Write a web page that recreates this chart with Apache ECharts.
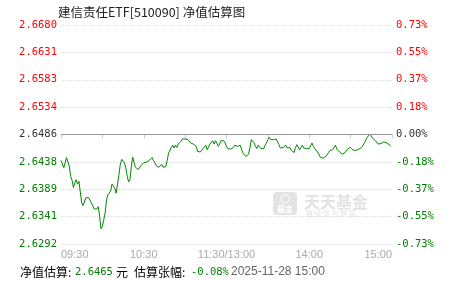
<!DOCTYPE html>
<html><head><meta charset="utf-8">
<script src="https://cdn.jsdelivr.net/npm/echarts@6/dist/echarts.min.js"></script>
<style>html,body{margin:0;padding:0;background:#fff}#c{width:451px;height:281px}</style>
</head><body><div id="c"></div>
<script>
const titleText = '建信责任ETF[510090] 净值估算图';
const baseNav = 2.6486;
const leftTickLabels = ['2.6292','2.6341','2.6389','2.6438','2.6486','2.6534','2.6583','2.6631','2.6680'];
const rightTickLabels = ['-0.73%','-0.55%','-0.37%','-0.18%','0.00%','0.18%','0.37%','0.55%','0.73%'];
const xTickLabels = {0:'09:30', 60:'10:30', 120:'11:30/13:00', 180:'14:00', 240:'15:00'};
const navValues = [
 2.6440,2.6434,2.6427,2.6424,2.6445,2.6442,2.6430,2.6412,2.6405,2.6392,
 2.6400,2.6406,2.6398,2.6403,2.6400,2.6365,2.6360,2.6360,2.6374,2.6375,
 2.6374,2.6372,2.6365,2.6360,2.6354,2.6352,2.6354,2.6358,2.6341,2.6319,
 2.6323,2.6335,2.6347,2.6370,2.6379,2.6376,2.6386,2.6398,2.6400,2.6391,
 2.6382,2.6385,2.6415,2.6433,2.6442,2.6439,2.6436,2.6427,2.6412,2.6402,
 2.6406,2.6430,2.6446,2.6436,2.6428,2.6426,2.6424,2.6426,2.6431,2.6434,
 2.6436,2.6439,2.6437,2.6437,2.6440,2.6443,2.6445,2.6440,2.6436,2.6431,
 2.6430,2.6428,2.6427,2.6433,2.6428,2.6426,2.6429,2.6440,2.6453,2.6455,
 2.6463,2.6467,2.6462,2.6467,2.6463,2.6469,2.6468,2.6474,2.6478,2.6476,
 2.6478,2.6475,2.6477,2.6474,2.6471,2.6473,2.6469,2.6468,2.6465,2.6456,
 2.6459,2.6455,2.6453,2.6461,2.6463,2.6467,2.6459,2.6462,2.6469,2.6471,
 2.6475,2.6469,2.6475,2.6471,2.6465,2.6469,2.6475,2.6477,2.6475,2.6471,
 2.6465,2.6461,2.6462,2.6460,2.6459,2.6463,2.6467,2.6467,2.6465,2.6466,
 2.6467,2.6459,2.6453,2.6451,2.6447,2.6445,2.6451,2.6463,2.6477,2.6479,
 2.6471,2.6465,2.6461,2.6467,2.6465,2.6461,2.6462,2.6461,2.6467,2.6471,
 2.6477,2.6481,2.6477,2.6476,2.6477,2.6474,2.6478,2.6476,2.6468,2.6462,
 2.6461,2.6463,2.6461,2.6467,2.6462,2.6461,2.6463,2.6458,2.6459,2.6454,
 2.6463,2.6468,2.6467,2.6459,2.6461,2.6467,2.6462,2.6465,2.6461,2.6462,
 2.6461,2.6466,2.6471,2.6465,2.6461,2.6458,2.6455,2.6451,2.6446,2.6445,
 2.6444,2.6445,2.6447,2.6450,2.6454,2.6458,2.6457,2.6459,2.6460,2.6467,
 2.6460,2.6457,2.6455,2.6453,2.6451,2.6448,2.6454,2.6457,2.6461,2.6462,
 2.6463,2.6460,2.6458,2.6460,2.6458,2.6459,2.6460,2.6461,2.6463,2.6465,
 2.6471,2.6476,2.6481,2.6484,2.6487,2.6484,2.6479,2.6477,2.6475,2.6473,
 2.6469,2.6468,2.6470,2.6471,2.6473,2.6471,2.6471,2.6471,2.6468,2.6465
];
const estNav = '2.6465';
const estPct = '-0.08%';
const estTime = '2025-11-28 15:00';
const sessions = [[570, 690], [781, 900]];

const times = [];
function hhmm(m){const h=Math.floor(m/60), mm=m%60; return (h<10?'0':'')+h+':'+(mm<10?'0':'')+mm;}
sessions.forEach(s=>{for(let m=s[0];m<=s[1];m++) times.push(hhmm(m));});

const maxBp = 73.25, stepBp = 18.3125;
const mid = 4;
function idxOf(v){return Math.round((v+maxBp)/stepBp);}
function tag(i){return i>mid?'r':(i<mid?'g':'k');}
const mono = 'DejaVu Sans Mono';
const labelRich = {
  r:{color:'#ff0000', fontFamily:mono, fontSize:10.5},
  g:{color:'#008000', fontFamily:mono, fontSize:10.5},
  k:{color:'#333333', fontFamily:mono, fontSize:10.5}
};

const chart = echarts.init(document.getElementById('c'));
chart.setOption({
  animation:false,
  backgroundColor:'#ffffff',
  grid:{left:61, right:59, top:25, bottom:37},
  xAxis:{
    type:'category', data:times, boundaryGap:false,
    axisLine:{lineStyle:{color:'#c3cfdb', width:1}},
    axisTick:{interval:(i)=>i%30===0, length:4, lineStyle:{color:'#c3cfdb'}},
    axisLabel:{interval:(i)=>i%60===0, formatter:(v,i)=>xTickLabels[i]||'', color:'#aaaaaa',
      fontSize:11, fontFamily:'Liberation Sans', margin:5, alignMinLabel:'left', alignMaxLabel:'right',
      showMinLabel:true, showMaxLabel:true},
    splitLine:{show:false}
  },
  yAxis:[{
    type:'value', min:-maxBp, max:maxBp, interval:stepBp, position:'left',
    axisLine:{show:false}, axisTick:{show:false},
    splitLine:{lineStyle:{color:'#dddddd', type:'dotted', width:1}},
    axisLabel:{margin:4, formatter:v=>{const i=idxOf(v);return '{'+tag(i)+'|'+leftTickLabels[i]+'}';}, rich:labelRich}
  },{
    type:'value', min:-maxBp, max:maxBp, interval:stepBp, position:'right',
    axisLine:{show:false}, axisTick:{show:false}, splitLine:{show:false},
    axisLabel:{margin:4, formatter:v=>{const i=idxOf(v);return '{'+tag(i)+'|'+rightTickLabels[i]+'}';}, rich:labelRich}
  }],
  graphic:[
    {type:'group', z:0, silent:true, children:[
      {type:'rect', shape:{x:273, y:192, width:24, height:23, r:4}, style:{fill:'#e3e3e3'}},
      {type:'circle', shape:{cx:285, cy:199, r:4}, style:{fill:'none', stroke:'#f6f6f6', lineWidth:1.5}},
      {type:'text', style:{x:285, y:209, text:'基金', fill:'#ffffff', font:'bold 8px "Noto Sans CJK SC"', align:'center', verticalAlign:'middle'}},
      {type:'text', style:{x:304, y:202, text:'天天基金', fill:'#e2e2e2', font:'bold 16px "Noto Sans CJK SC"', align:'left', verticalAlign:'middle'}},
      {type:'text', style:{x:306, y:213, text:'链 接 您 与 财 富', fill:'#e2e2e2', font:'7px "Noto Sans CJK SC"', align:'left', verticalAlign:'middle'}}
    ]},
    {type:'text', silent:true, style:{x:58, y:12, text:titleText, fill:'#222', font:'12.5px "Noto Sans CJK SC"', verticalAlign:'middle'}},
    {type:'text', silent:true, style:{x:20, y:272, text:'净值估算:', fill:'#000', font:'12px "Noto Sans CJK SC"', verticalAlign:'middle'}},
    {type:'text', silent:true, style:{x:75, y:272, text:estNav, fill:'#008000', font:'10.5px "DejaVu Sans Mono"', verticalAlign:'middle'}},
    {type:'text', silent:true, style:{x:116, y:272, text:'元', fill:'#000', font:'12px "Noto Sans CJK SC"', verticalAlign:'middle'}},
    {type:'text', silent:true, style:{x:134, y:272, text:'估算张幅:', fill:'#000', font:'12px "Noto Sans CJK SC"', verticalAlign:'middle'}},
    {type:'text', silent:true, style:{x:191, y:272, text:estPct, fill:'#008000', font:'10.5px "DejaVu Sans Mono"', verticalAlign:'middle'}},
    {type:'text', silent:true, style:{x:231, y:272, text:estTime, fill:'#666', font:'12px "Liberation Sans"', verticalAlign:'middle'}}
  ],
  series:[{
    type:'line', yAxisIndex:0, z:3,
    data:navValues.map(v=>(v/baseNav-1)*10000),
    showSymbol:false, symbol:'none',
    lineStyle:{color:'#008800', width:1},
    markLine:{silent:true, symbol:'none', label:{show:false}, animation:false,
      lineStyle:{color:'#999999', type:'solid', width:1}, data:[{yAxis:0}]}
  }]
});
</script>
</body></html>
